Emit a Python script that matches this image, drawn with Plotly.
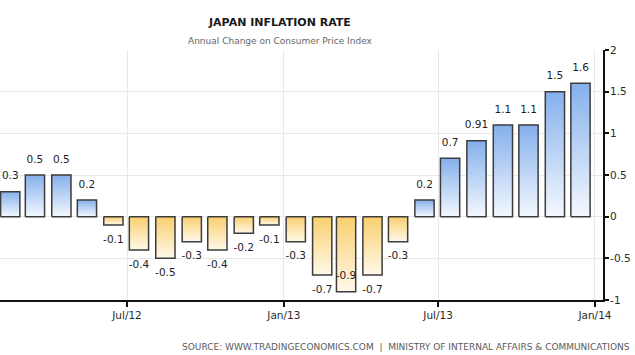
import pandas as pd
import plotly.graph_objects as go

# ---- data ----
months = pd.date_range("2012-02-01", "2013-12-01", freq="MS")
values = [0.3, 0.5, 0.5, 0.2, -0.1, -0.4, -0.5, -0.3, -0.4, -0.2, -0.1, -0.3,
          -0.7, -0.9, -0.7, -0.3, 0.2, 0.7, 0.91, 1.1, 1.1, 1.5, 1.6]
labels = [str(v) for v in values]
tick_dates = ["2012-07-01", "2013-01-01", "2013-07-01", "2014-01-01"]
tick_text = ["Jul/12", "Jan/13", "Jul/13", "Jan/14"]
y_ticks = [-1, -0.5, 0, 0.5, 1, 1.5, 2]
y_tick_text = ["-1", "-0.5", "0", "0.5", "1", "1.5", "2"]
Y_MIN, Y_MAX = -1, 2

FONT = "DejaVu Sans"
centers = [m + pd.Timedelta(days=14) for m in months]
half = pd.Timedelta(hours=271)  # half bar width

fig = go.Figure()

for c, v in zip(centers, values):
    x0, x1 = c - half, c + half
    if v >= 0:
        cs = [[0, "#f4f8fe"], [1, "#85b0ec"]]
    else:
        cs = [[0, "#fff9ea"], [1, "#f9cf6e"]]
    fig.add_trace(go.Scatter(
        x=[x0, x1, x1, x0, x0], y=[0, 0, v, v, 0],
        mode="lines", fill="toself",
        fillgradient=dict(type="vertical", colorscale=cs),
        line=dict(color="#3c3c3c", width=1.5),
        hoverinfo="skip", showlegend=False,
    ))

positions = []
for v in values:
    if v >= 0:
        positions.append("top center")
    elif v - 0.15 < Y_MIN:
        positions.append("top center")  # no room below: label sits inside bar end
    else:
        positions.append("bottom center")

fig.add_trace(go.Scatter(
    x=centers, y=values, mode="markers+text", text=labels,
    marker=dict(size=14, opacity=0),
    textposition=positions,
    textfont=dict(family=FONT, size=10.5, color="#1e1e1e"),
    cliponaxis=False, showlegend=False, hoverinfo="skip",
))

fig.update_layout(
    width=635, height=355,
    margin=dict(l=0, r=32, t=50, b=55, autoexpand=False),
    paper_bgcolor="white", plot_bgcolor="white",
    font=dict(family=FONT, color="#222222"),
    xaxis=dict(
        type="date", range=["2012-02-03", "2014-01-10 10:00"],
        tickvals=tick_dates, ticktext=tick_text,
        showgrid=True, gridcolor="#e8e8e8", gridwidth=1,
        showline=True, linecolor="#111111", linewidth=1.5,
        ticks="outside", ticklen=5, tickcolor="#111111", tickwidth=1.5,
        tickfont=dict(family=FONT, size=10.5, color="#2a2a2a"),
        zeroline=False, fixedrange=True,
    ),
    yaxis=dict(
        side="right", range=[Y_MIN, Y_MAX],
        tickvals=y_ticks, ticktext=y_tick_text,
        showgrid=True, gridcolor="#e8e8e8", gridwidth=1,
        showline=True, linecolor="#111111", linewidth=2,
        ticks="outside", ticklen=4, tickcolor="#111111", tickwidth=1.5,
        ticklabelstandoff=-1,
        tickfont=dict(family=FONT, size=10.5, color="#2a2a2a"),
        zeroline=False, fixedrange=True,
    ),
    annotations=[
        dict(text="<b>JAPAN INFLATION RATE</b>", xref="paper", yref="paper",
             x=0.464, y=1.108, xanchor="center", yanchor="middle", showarrow=False,
             font=dict(family=FONT, size=11, color="#1a1a1a")),
        dict(text="Annual Change on Consumer Price Index", xref="paper", yref="paper",
             x=0.466, y=1.036, xanchor="center", yanchor="middle", showarrow=False,
             font=dict(family=FONT, size=9, color="#666666")),
        dict(text="SOURCE: WWW.TRADINGECONOMICS.COM  |  MINISTRY OF INTERNAL AFFAIRS & COMMUNICATIONS",
             xref="paper", yref="paper", x=1.048, y=-0.188, xanchor="right", yanchor="middle",
             showarrow=False, font=dict(family=FONT, size=9, color="#5a5a5a")),
    ],
)

fig.write_html("out.html", config={"displayModeBar": False},
               post_script="document.body.style.margin='0';document.body.style.overflow='hidden';")
